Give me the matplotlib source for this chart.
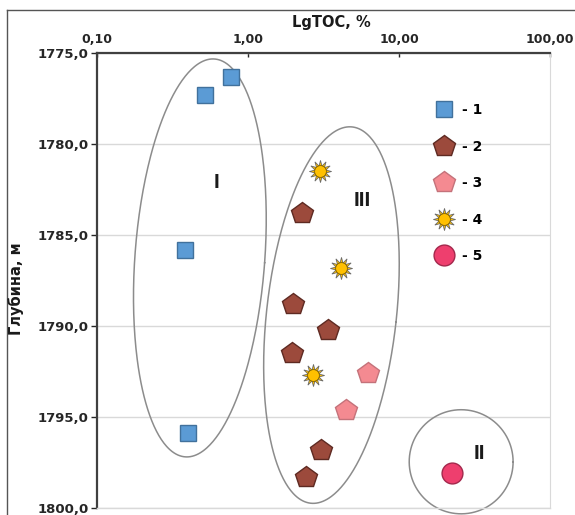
import numpy as np
import matplotlib
matplotlib.use("Agg")
import matplotlib.pyplot as plt
from matplotlib.lines import Line2D
from matplotlib.legend_handler import HandlerTuple

# ---------------- data ----------------
s1_toc = [0.77, 0.52, 0.38, 0.40]
s1_depth = [1776.3, 1777.3, 1785.8, 1795.9]

s2_toc = [2.27, 2.00, 3.37, 1.96, 3.04, 2.42]
s2_depth = [1783.8, 1788.8, 1790.2, 1791.5, 1796.8, 1798.3]

s3_toc = [6.2, 4.46]
s3_depth = [1792.6, 1794.6]

s4_toc = [3.0, 4.13, 2.71]
s4_depth = [1781.5, 1786.8, 1792.7]

s5_toc = [22.5]
s5_depth = [1798.1]

legend_labels = ["- 1", "- 2", "- 3", "- 4", "- 5"]
x_ticks = [0.1, 1, 10, 100]
x_ticklabels = ["0,10", "1,00", "10,00", "100,00"]
y_ticks = [1775, 1780, 1785, 1790, 1795, 1800]
y_ticklabels = ["1775,0", "1780,0", "1785,0", "1790,0", "1795,0", "1800,0"]

# group envelopes: centre (TOC, depth), semi-axis along depth (m), semi-axis in decades, tilt (deg)
groups = ["I", "III", "II"]
env_center = [(0.48, 1786.26), (3.57, 1789.4), (25.8, 1797.46)]
env_major_m = [10.96, 10.4, 2.86]
env_minor_dec = [0.43, 0.43, 0.344]
env_tilt = [4.2, 6.3, 0.0]
label_pos = [(0.62, 1782.1), (5.69, 1783.1), (33.9, 1797.0)]

# ---------------- figure ----------------
W, H = 575, 515
fig = plt.figure(figsize=(W / 100, H / 100), dpi=100)
ax = fig.add_axes([97 / W, 1 - 508 / H, (550 - 97) / W, (508 - 53) / H])
ax.set_xscale("log")
ax.set_xlim(0.1, 100)
ax.set_ylim(1800, 1775)

FONT = "DejaVu Sans"
ax.xaxis.tick_top()
ax.set_xticks(x_ticks)
ax.set_xticklabels(x_ticklabels, fontsize=9, fontweight="bold", family=FONT)
ax.xaxis.set_minor_locator(matplotlib.ticker.NullLocator())
ax.set_yticks(y_ticks)
ax.set_yticklabels(y_ticklabels, fontsize=9.5, fontweight="bold", family=FONT)
ax.tick_params(axis="x", direction="in", length=3, pad=5, colors="#262626", width=1)
ax.tick_params(axis="y", direction="out", length=4, pad=2, colors="#262626", width=1)

ax.grid(axis="y", color="#d9d9d9", linewidth=1)
ax.set_axisbelow(True)
for side in ["top", "left"]:
    ax.spines[side].set_color("#404040")
    ax.spines[side].set_linewidth(1.6)
ax.spines["right"].set_color("#d9d9d9")
ax.spines["bottom"].set_color("#d9d9d9")
ax.spines["bottom"].set_linewidth(1)

# envelopes
ax_w_px = (550 - 97)
ax_h_px = (508 - 53)
kx = ax_w_px / (np.log10(100) - np.log10(0.1))
ky = ax_h_px / (1800 - 1775)
t = np.linspace(0, 2 * np.pi, 400)
for (cx, cy), am, bd, tilt in zip(env_center, env_major_m, env_minor_dec, env_tilt):
    a = am * ky
    b = bd * kx
    th = np.deg2rad(tilt)
    ex = b * np.cos(t)
    ey = a * np.sin(t)
    dx = ex * np.cos(th) + ey * np.sin(th)
    dy = -ex * np.sin(th) + ey * np.cos(th)
    u = np.log10(cx) + dx / kx
    v = cy - dy / ky
    ax.plot(10 ** u, v, color="#8c8c8c", linewidth=1.1, clip_on=False, zorder=2)

for name, (lx, ly) in zip(groups, label_pos):
    ax.text(lx, ly, name, fontsize=15, fontweight="bold", family="Liberation Sans",
            ha="center", va="center", color="#1a1a1a", zorder=5)

# markers
h1, = ax.plot(s1_toc, s1_depth, ls="none", marker="s", ms=11, mfc="#5b9bd5",
              mec="#41719c", mew=1, zorder=4)
h2, = ax.plot(s2_toc, s2_depth, ls="none", marker="p", ms=16, mfc="#9c4a3c",
              mec="#5e2a22", mew=1, zorder=4)
h3, = ax.plot(s3_toc, s3_depth, ls="none", marker="p", ms=16, mfc="#f48a91",
              mec="#c4727a", mew=1, zorder=4)
h4a, = ax.plot(s4_toc, s4_depth, ls="none", marker=(12, 1, 0), ms=16, mfc="#ffc000",
               mec="#6a6a6a", mew=0.6, zorder=4)
h4b, = ax.plot(s4_toc, s4_depth, ls="none", marker="o", ms=8.5, mfc="#ffc000",
               mec="#7f6000", mew=0.6, zorder=4)
h5, = ax.plot(s5_toc, s5_depth, ls="none", marker="o", ms=15, mfc="#ee3f6e",
              mec="#a3284c", mew=1, zorder=4, clip_on=False)

leg = ax.legend([h1, h2, h3, (h4a, h4b), h5], legend_labels,
                handler_map={tuple: HandlerTuple(ndivide=1, pad=0)},
                loc="upper left", bbox_to_anchor=(0.744, 0.890), frameon=False,
                prop={"family": FONT, "weight": "bold", "size": 10},
                handlelength=1.4, handletextpad=0.6, labelspacing=1.62,
                borderaxespad=0, borderpad=0)

# titles
fig.text(331 / W, 1 - 22 / H, "LgTOC, %", ha="center", va="center",
         fontsize=10.5, fontweight="bold", family=FONT, color="#1a1a1a")
fig.text(16 / W, 1 - 289 / H, "Глубина, м", ha="center", va="center", rotation=90,
         fontsize=10.5, fontweight="bold", family=FONT, color="#1a1a1a")

# outer frame (left and top edges visible)
fig.add_artist(Line2D([7 / W, 7 / W], [0, 1 - 10 / H], transform=fig.transFigure,
                      color="#555555", linewidth=1))
fig.add_artist(Line2D([7 / W, 1], [1 - 10 / H, 1 - 10 / H], transform=fig.transFigure,
                      color="#555555", linewidth=1))

fig.savefig("out.png", dpi=100)
